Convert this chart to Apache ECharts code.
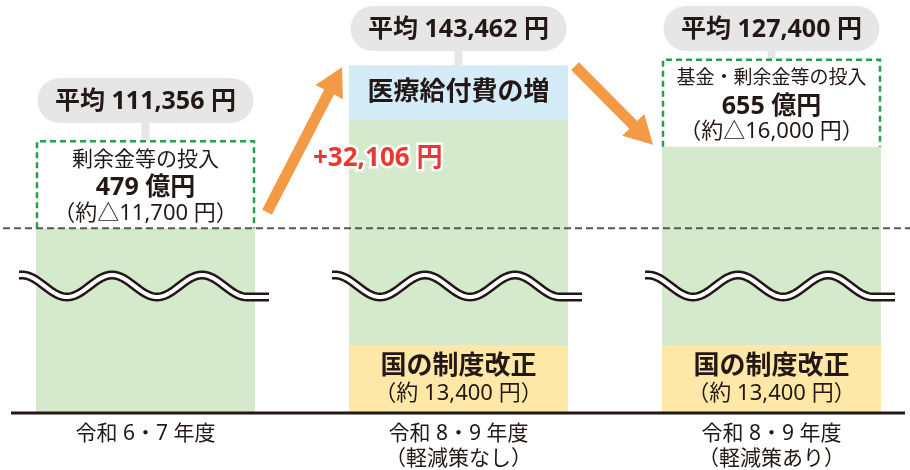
<!DOCTYPE html>
<html>
<head>
<meta charset="utf-8">
<script src="https://cdn.jsdelivr.net/npm/echarts@6/dist/echarts.min.js"></script>
<style>
html,body{margin:0;padding:0;background:#fff;}
#main{width:910px;height:470px;}
</style>
</head>
<body>
<div id="main"></div>
<script>
// 年度
var categories = ['令和 6・7 年度', '令和 8・9 年度\n（軽減策なし）', '令和 8・9 年度\n（軽減策あり）'];
// 平均保険料（円）
var averages = [111356, 143462, 127400];
// 国の制度改正分（円）
var reformValues = ['-', 13400, 13400];
// 医療給付費の増（図から読み取った目安）
var medicalValues = ['-', 10800, '-'];
// 剰余金等の投入
var fundTitles = ['剰余金等の投入', '', '基金・剰余金等の投入'];
var fundOku = [479, null, 655];
var fundPerPerson = [11700, null, 16000];

var TEXT = '#231815';
var FONT = '"Noto Sans", "Noto Sans CJK JP", sans-serif';
var BREAK_START = 25000, BREAK_END = 100000;

function num(v) { return v === '-' || v == null ? 0 : v; }
function fmt(v) { return Number(v).toLocaleString('en-US'); }

// 緑の部分 = 平均 - 制度改正 - 医療給付費の増
var baseValues = averages.map(function (v, i) {
	return v - num(reformValues[i]) - num(medicalValues[i]);
});

var chart = echarts.init(document.getElementById('main'));
var option = {
	animation: false,
	textStyle: { fontFamily: FONT },
	grid: { left: -11, right: -18, top: 32, bottom: 57, outerBoundsMode: 'none' },
	xAxis: {
		type: 'category',
		data: categories,
		axisLine: { show: false },
		axisTick: { show: false },
		axisLabel: { color: TEXT, fontSize: 21, lineHeight: 25, margin: 9, fontFamily: FONT }
	},
	yAxis: {
		type: 'value',
		show: false,
		min: 0,
		max: 150000,
		splitLine: { show: false },
		breaks: [{ start: BREAK_START, end: BREAK_END, gap: 0 }],
		breakArea: { show: false }
	},
	series: [
		{
			name: '国の制度改正',
			type: 'bar',
			stack: 'total',
			barWidth: 219,
			data: reformValues,
			itemStyle: { color: '#fde8a7' },
			label: {
				show: true,
				position: 'inside',
				formatter: function (p) {
					return '{a|国の制度改正}\n{b|（約 ' + fmt(p.value) + ' 円）}';
				},
				rich: {
					a: { fontSize: 26, fontWeight: 'bold', color: TEXT, lineHeight: 30, fontFamily: FONT },
					b: { fontSize: 22, color: TEXT, lineHeight: 25, fontFamily: FONT }
				}
			}
		},
		{
			name: '平均保険料',
			type: 'bar',
			stack: 'total',
			barWidth: 219,
			data: baseValues,
			itemStyle: { color: '#d5e9cd' }
		},
		{
			name: '医療給付費の増',
			type: 'bar',
			stack: 'total',
			barWidth: 219,
			data: medicalValues,
			itemStyle: { color: '#d4ebf8' },
			label: {
				show: true,
				position: 'inside',
				formatter: '{a}',
				fontSize: 26,
				fontWeight: 'bold',
				color: TEXT,
				fontFamily: FONT
			}
		}
	]
};
chart.setOption(option);

//波線
function wavePoints(x0, yc) {
	var pts = [];
	for (var x = 0; x <= 250; x += 2) {
		var t = Math.min(Math.max(x - 3, 0), 225);
		pts.push([x0 + x, yc - 11 * Math.cos(2 * Math.PI * t / 90)]);
	}
	return pts;
}
//矢印
function arrowPoints(x1, y1, x2, y2, shaft, headLen, headW) {
	var dx = x2 - x1, dy = y2 - y1, len = Math.sqrt(dx * dx + dy * dy);
	dx /= len; dy /= len;
	var nx = -dy, ny = dx;
	var bx = x2 - dx * headLen, by = y2 - dy * headLen;
	var w = shaft / 2, h = headW / 2;
	return [
		[x1 + nx * w, y1 + ny * w], [bx + nx * w, by + ny * w], [bx + nx * h, by + ny * h],
		[x2, y2],
		[bx - nx * h, by - ny * h], [bx - nx * w, by - ny * w], [x1 - nx * w, y1 - ny * w]
	];
}

var cx = [], tops = [];
for (var i = 0; i < averages.length; i++) {
	var p = chart.convertToPixel({ gridIndex: 0 }, [i, averages[i]]);
	cx.push(p[0]);
	tops.push(p[1]);
}
var baseY = chart.convertToPixel({ gridIndex: 0 }, [0, 0])[1];
var breakY = chart.convertToPixel({ gridIndex: 0 }, [0, BREAK_START])[1];
var half = 109.5;
var bubbleTop = [78, 6, 6];

var g = [];
// 横軸
g.push({ type: 'line', z: 50, shape: { x1: 11, y1: baseY, x2: 905, y2: baseY }, style: { stroke: TEXT, lineWidth: 3 } });
// 基準の破線
g.push({ type: 'line', z: 50, shape: { x1: 3, y1: tops[0], x2: 910, y2: tops[0] }, style: { stroke: '#595757', lineWidth: 2, lineDash: [7, 4] } });

for (var i = 0; i < averages.length; i++) {
	var L = cx[i] - half, R = cx[i] + half;
	g.push({ type: 'polyline', z: 60, shape: { points: wavePoints(L - 17, breakY) }, style: { stroke: TEXT, lineWidth: 9, fill: null } });
	g.push({ type: 'polyline', z: 61, shape: { points: wavePoints(L - 17, breakY) }, style: { stroke: '#fff', lineWidth: 4, fill: null } });

	var stemEnd = tops[i];
	if (fundOku[i] != null) {
		var boxTop = tops[i] - 87;
		stemEnd = boxTop;
		var fs = i === 0 ? 21 : 19;
		g.push({ type: 'polyline', z: 55, shape: { points: [[L + 1, tops[i]], [L + 1, boxTop], [R - 1, boxTop], [R - 1, tops[i]]] }, style: { stroke: '#22a04b', lineWidth: 2.5, lineDash: [6, 4], fill: null } });
		g.push({ type: 'text', z: 70, x: cx[i], y: tops[i] - 68, style: { text: fundTitles[i], fill: TEXT, font: fs + 'px ' + FONT, textAlign: 'center', textVerticalAlign: 'middle' } });
		g.push({ type: 'text', z: 70, x: cx[i], y: tops[i] - 40, style: { text: fundOku[i] + ' 億円', fill: TEXT, font: 'bold 25px ' + FONT, textAlign: 'center', textVerticalAlign: 'middle' } });
		g.push({ type: 'text', z: 70, x: cx[i], y: tops[i] - 15, style: { text: '（約△' + fmt(fundPerPerson[i]) + ' 円）', fill: TEXT, font: '22px ' + FONT, textAlign: 'center', textVerticalAlign: 'middle' } });
	}
	// 吹き出し
	var bt = bubbleTop[i], bh = 45;
	g.push({ type: 'rect', z: 40, shape: { x: cx[i] - 4, y: bt + bh - 2, width: 8, height: stemEnd - bt - bh + 2 }, style: { fill: '#e6e6e6' } });
	g.push({ type: 'rect', z: 41, shape: { x: cx[i] - 108, y: bt, width: 216, height: bh, r: 22.5 }, style: { fill: '#e6e6e6' } });
	g.push({ type: 'text', z: 70, x: cx[i], y: bt + bh / 2 + 1, style: { text: '平均 ' + fmt(averages[i]) + ' 円', fill: TEXT, font: 'bold 25px ' + FONT, textAlign: 'center', textVerticalAlign: 'middle' } });
}

// 矢印
g.push({ type: 'polygon', z: 65, shape: { points: arrowPoints(cx[0] + half + 12, tops[0] - 16, cx[1] - half - 7, tops[1] + 2, 11, 28, 31) }, style: { fill: '#f29a46' } });
g.push({ type: 'polygon', z: 65, shape: { points: arrowPoints(cx[1] + half + 7, tops[1] + 1, cx[2] - half - 9, tops[2] - 2, 11, 28, 31) }, style: { fill: '#f29a46' } });

// 増加額
g.push({ type: 'text', z: 80, x: cx[1] - half - 36, y: tops[0] - 70, style: { text: '+' + fmt(averages[1] - averages[0]) + ' 円', fill: '#e8382f', font: 'bold 26px ' + FONT, stroke: '#fff', lineWidth: 5, textAlign: 'left', textVerticalAlign: 'middle' } });

chart.setOption({ graphic: g });
</script>
</body>
</html>
